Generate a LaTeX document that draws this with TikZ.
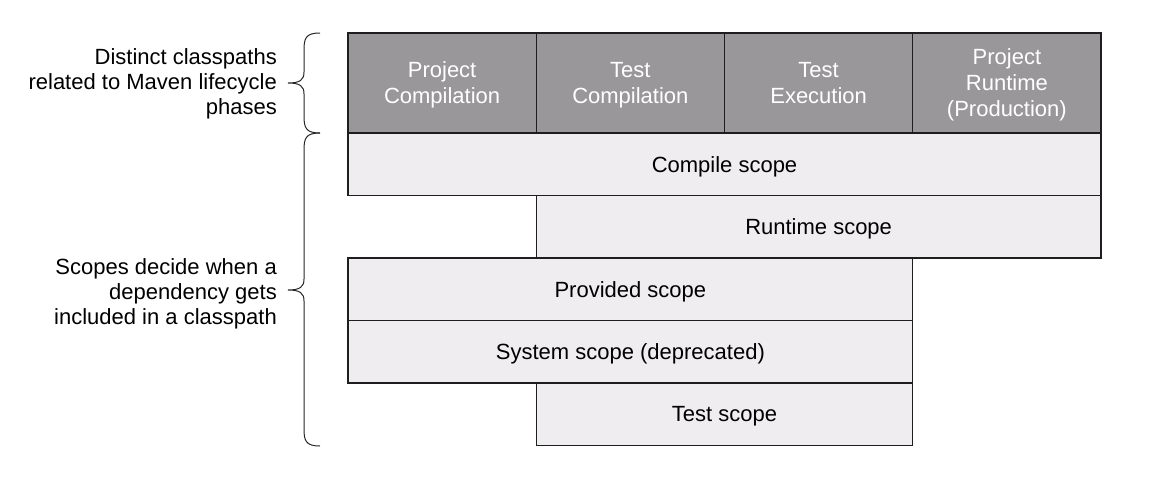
\documentclass[tikz,border=0pt]{standalone}
\usepackage{fontspec}
\setmainfont{Liberation Sans}
\definecolor{hdrgray}{RGB}{153,151,154}
\definecolor{cellgray}{RGB}{239,237,240}
\definecolor{edge}{RGB}{30,30,30}
\tikzset{
  hdr/.style={draw=edge, line width=1.1pt, fill=hdrgray, text=white, align=center,
    minimum width=188.25pt, minimum height=100pt, inner sep=0pt, text depth=0pt,
    font=\fontsize{22}{26}\selectfont},
  scopebox/.style={draw=edge, line width=1.1pt, fill=cellgray, text=black, align=center,
    minimum height=62.5pt, inner sep=0pt, text depth=0pt, font=\fontsize{22}{26}\selectfont},
  sidelabel/.style={anchor=east, align=right, inner sep=0pt, text depth=0pt, font=\fontsize{22}{25}\selectfont},
  bracepath/.style={draw=black!85, line width=1pt}
}
\begin{document}
\begin{tikzpicture}[x=1pt,y=-1pt]
\useasboundingbox (0,0) rectangle (1156,488);
% header
\node[hdr] (h1) at (442.125,83) {Project\\Compilation};
\node[hdr] (h2) at (630.375,83) {Test\\Compilation};
\node[hdr] (h3) at (818.625,83) {Test\\Execution};
\node[hdr] (h4) at (1006.875,83) {Project\\Runtime\\(Production)};
% scopes
\node[scopebox, minimum width=753pt] (compile) at (724.5,164.25) {Compile scope};
\node[scopebox, minimum width=564.75pt] (runtime) at (818.625,226.75) {Runtime scope};
\node[scopebox, minimum width=564.75pt] (provided) at (630.375,289.25) {Provided scope};
\node[scopebox, minimum width=564.75pt] (system) at (630.375,351.75) {System scope (deprecated)};
\node[scopebox, minimum width=376.5pt] (test) at (724.5,414.25) {Test scope};
% side labels
\node[sidelabel] (lab1) at (277,82) {Distinct classpaths\\related to Maven lifecycle\\phases};
\node[sidelabel] (lab2) at (277,292) {Scopes decide when a\\dependency gets\\included in a classpath};
% braces
\coordinate (b1top) at (320,33);
\coordinate (b1tip) at (288,83);
\coordinate (b1bot) at (320,133);
\coordinate (b2top) at (320,133);
\coordinate (b2tip) at (288,290);
\coordinate (b2bot) at (320,446);
\draw[bracepath] (b1top) .. controls (306,33) and (304,38) .. (304,50) -- (304,72)
  .. controls (304,80) and (300,83) .. (b1tip)
  .. controls (300,83) and (304,86) .. (304,94) -- (304,116)
  .. controls (304,128) and (306,133) .. (b1bot);
\draw[bracepath] (b2top) .. controls (306,133) and (304,138) .. (304,150) -- (304,279)
  .. controls (304,287) and (300,290) .. (b2tip)
  .. controls (300,290) and (304,293) .. (304,301) -- (304,429)
  .. controls (304,441) and (306,446) .. (b2bot);
\end{tikzpicture}
\end{document}
